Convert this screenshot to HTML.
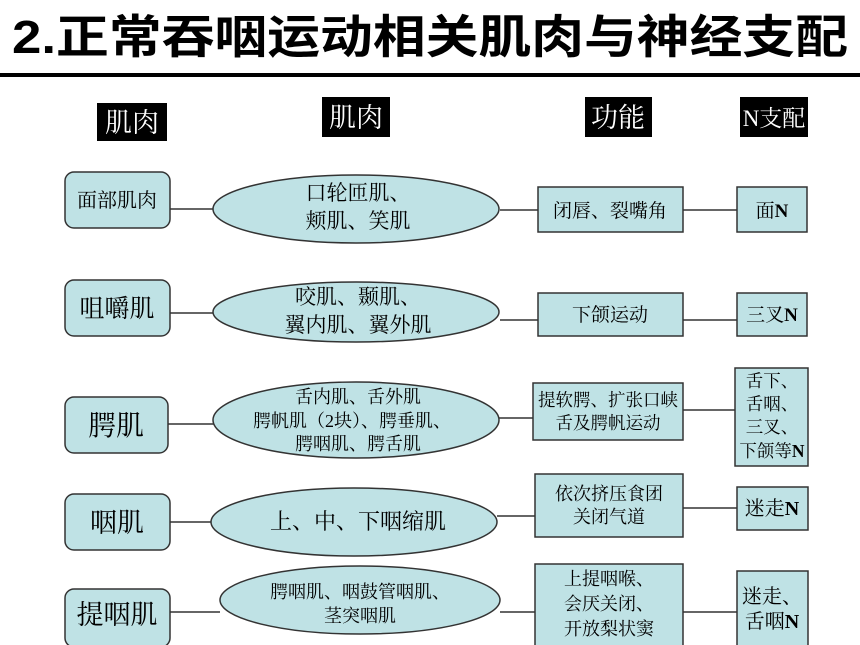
<!DOCTYPE html>
<html><head><meta charset="utf-8"><style>
html,body{margin:0;padding:0;background:#fff;}
svg{display:block}
.t{font-family:"Liberation Serif","Noto Serif CJK SC",serif;fill:#000;text-anchor:middle}
.w{font-family:"Liberation Serif","Noto Serif CJK SC",serif;fill:#fff;text-anchor:middle}
.h{font-family:"Liberation Sans","Noto Sans CJK SC",sans-serif;font-weight:bold;fill:#000}
.b{font-weight:bold}
</style></head><body>
<svg width="860" height="645" viewBox="0 0 860 645">
<text class="h" x="12" y="53" font-size="46" textLength="836" lengthAdjust="spacingAndGlyphs">2.正常吞咽运动相关肌肉与神经支配</text>
<rect x="0" y="73" width="860" height="4" fill="#000"/>
<rect x="97" y="103" width="70" height="38" fill="#000"/><text class="w" x="132" y="132" font-size="27">肌肉</text>
<rect x="322" y="97" width="68" height="40" fill="#000"/><text class="w" x="356" y="127" font-size="27">肌肉</text>
<rect x="585" y="97" width="67" height="40" fill="#000"/><text class="w" x="618" y="127" font-size="27">功能</text>
<rect x="740" y="97" width="68" height="40" fill="#000"/><text class="w" x="774" y="126" font-size="23">N支配</text>
<g stroke="#333" stroke-width="1.5" fill="none">
<line x1="170" y1="209" x2="215" y2="209"/><line x1="500" y1="210" x2="538" y2="210"/><line x1="683" y1="210" x2="737" y2="210"/>
<line x1="170" y1="313" x2="215" y2="313"/><line x1="500" y1="320" x2="538" y2="320"/><line x1="683" y1="320" x2="737" y2="320"/>
<line x1="168" y1="424" x2="215" y2="424"/><line x1="498" y1="418" x2="535" y2="418"/><line x1="683" y1="410" x2="737" y2="410"/>
<line x1="170" y1="522" x2="212" y2="522"/><line x1="497" y1="516" x2="535" y2="516"/><line x1="683" y1="508" x2="737" y2="508"/>
<line x1="170" y1="612" x2="220" y2="612"/><line x1="500" y1="612" x2="535" y2="612"/><line x1="683" y1="612" x2="737" y2="612"/>
</g>
<g fill="#bfe2e5" stroke="#333" stroke-width="1.5">
<rect x="65" y="172" width="105" height="56" rx="9"/>
<rect x="65" y="280" width="105" height="56" rx="9"/>
<rect x="65" y="397" width="103" height="56" rx="9"/>
<rect x="65" y="494" width="105" height="56" rx="9"/>
<rect x="65" y="589" width="105" height="58" rx="9"/>
<ellipse cx="356" cy="209" rx="143" ry="34"/>
<ellipse cx="356" cy="312" rx="143" ry="30"/>
<ellipse cx="356" cy="420" rx="143" ry="38"/>
<ellipse cx="354" cy="522" rx="143" ry="34"/>
<ellipse cx="360" cy="600" rx="140" ry="34"/>
<rect x="538" y="187" width="145" height="45"/>
<rect x="538" y="293" width="145" height="43"/>
<rect x="533" y="383" width="150" height="57"/>
<rect x="535" y="474" width="148" height="63"/>
<rect x="535" y="564" width="148" height="83"/>
<rect x="737" y="187" width="70" height="45"/>
<rect x="737" y="293" width="70" height="43"/>
<rect x="735" y="368" width="73" height="98"/>
<rect x="737" y="487" width="71" height="43"/>
<rect x="737" y="571" width="71" height="76"/>
</g>
<text class="t" x="117" y="207" font-size="20">面部肌肉</text>
<text class="t" x="117" y="317" font-size="25">咀嚼肌</text>
<text class="t" x="116" y="435" font-size="28">腭肌</text>
<text class="t" x="117" y="532" font-size="27">咽肌</text>
<text class="t" x="117" y="624" font-size="27">提咽肌</text>
<text class="t" x="358" y="200" font-size="21">口轮匝肌、</text>
<text class="t" x="358" y="228" font-size="21">颊肌、笑肌</text>
<text class="t" x="358" y="304" font-size="21">咬肌、颞肌、</text>
<text class="t" x="358" y="332" font-size="21">翼内肌、翼外肌</text>
<text class="t" x="358" y="403" font-size="18">舌内肌、舌外肌</text>
<text class="t" x="352" y="427" font-size="18">腭帆肌（2块）、腭垂肌、</text>
<text class="t" x="358" y="450" font-size="18">腭咽肌、腭舌肌</text>
<text class="t" x="358" y="529" font-size="22">上、中、下咽缩肌</text>
<text class="t" x="360" y="598" font-size="18">腭咽肌、咽鼓管咽肌、</text>
<text class="t" x="360" y="622" font-size="18">茎突咽肌</text>
<text class="t" x="610" y="217" font-size="19">闭唇、裂嘴角</text>
<text class="t" x="610" y="321" font-size="19">下颌运动</text>
<text class="t" x="608" y="406" font-size="17.5">提软腭、扩张口峡</text>
<text class="t" x="608" y="429" font-size="17.5">舌及腭帆运动</text>
<text class="t" x="609" y="500" font-size="18">依次挤压食团</text>
<text class="t" x="609" y="523" font-size="18">关闭气道</text>
<text class="t" x="609" y="585" font-size="18">上提咽喉、</text>
<text class="t" x="609" y="610" font-size="18">会厌关闭、</text>
<text class="t" x="609" y="635" font-size="18">开放梨状窦</text>
<text class="t" x="772" y="217" font-size="19">面<tspan class="b">N</tspan></text>
<text class="t" x="772" y="321" font-size="19">三叉<tspan class="b">N</tspan></text>
<text class="t" x="772" y="387" font-size="17.5">舌下、</text>
<text class="t" x="772" y="410" font-size="17.5">舌咽、</text>
<text class="t" x="772" y="433" font-size="17.5">三叉、</text>
<text class="t" x="772" y="457" font-size="17.5">下颌等<tspan class="b">N</tspan></text>
<text class="t" x="772" y="515" font-size="20">迷走<tspan class="b">N</tspan></text>
<text class="t" x="772" y="603" font-size="20">迷走、</text>
<text class="t" x="772" y="628" font-size="20">舌咽<tspan class="b">N</tspan></text>
</svg>
</body></html>
